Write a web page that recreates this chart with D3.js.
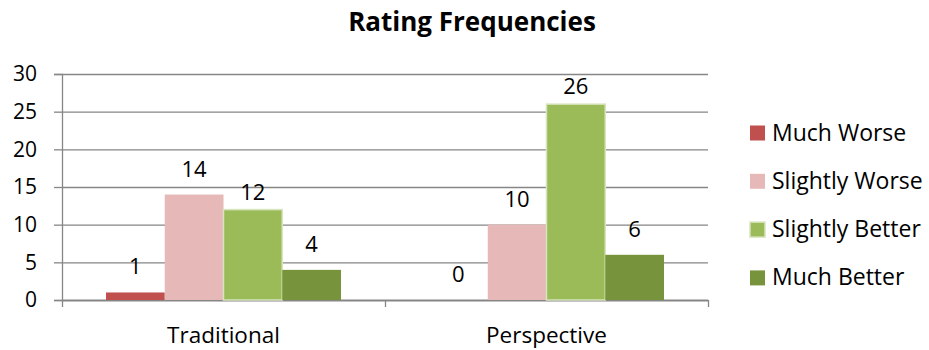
<!DOCTYPE html>
<html>
<head>
<meta charset="utf-8">
<script src="https://cdn.jsdelivr.net/npm/d3@7"></script>
<style>
  html, body { margin: 0; padding: 0; background: #fff; }
  svg { display: block; font-family: "Open Sans", sans-serif; }
</style>
</head>
<body>
<svg id="chart" width="929" height="350"></svg>
<script>
// Rating counts per presentation style
const categories = ["Traditional", "Perspective"];
const seriesNames = ["Much Worse", "Slightly Worse", "Slightly Better", "Much Better"];
const muchWorse = [1, 0];
const slightlyWorse = [14, 10];
const slightlyBetter = [12, 26];
const muchBetter = [4, 6];
const yTicks = [0, 5, 10, 15, 20, 25, 30];
const seriesColors = ["#c0504d", "#e6b9b8", "#9bbb59", "#77933c"];

const seriesValues = [muchWorse, slightlyWorse, slightlyBetter, muchBetter];

const FONT = "'Open Sans', sans-serif";
const svg = d3.select("#chart");
const margin = { left: 62, right: 221, top: 74, bottom: 50 };
const W = 929, H = 350;
const plotW = W - margin.left - margin.right;
const plotH = H - margin.top - margin.bottom;

const g = svg.append("g").attr("transform", `translate(${margin.left},${margin.top})`);

const x0 = d3.scaleBand().domain(categories).range([0, plotW]).paddingInner(0).paddingOuter(0);
const x1 = d3.scaleBand().domain(seriesNames).range([44, x0.bandwidth() - 44]).padding(0);
const y = d3.scaleLinear().domain([0, 30]).range([plotH, 0]);

const axisColor = "#868686";

// horizontal gridlines
g.append("g")
  .selectAll("line")
  .data(yTicks.filter(t => t > 0))
  .join("line")
  .attr("x1", 0).attr("x2", plotW)
  .attr("y1", d => y(d) + 0.5).attr("y2", d => y(d) + 0.5)
  .attr("stroke", axisColor).attr("stroke-width", 1.3);

// y axis
const yAxis = d3.axisLeft(y).tickValues(yTicks).tickSize(8).tickPadding(17);
const yg = g.append("g").call(yAxis);
yg.select(".domain").attr("stroke", axisColor).attr("stroke-width", 1.3);
yg.selectAll(".tick line").attr("stroke", axisColor).attr("stroke-width", 1.3);
yg.selectAll(".tick text")
  .attr("font-family", FONT)
  .attr("font-size", 21).attr("fill", "#000");

// x axis: ticks at category boundaries, labels at centres
const xg = g.append("g").attr("transform", `translate(0,${plotH})`);
xg.append("line").attr("x1", 0).attr("x2", plotW).attr("y1", 0.5).attr("y2", 0.5)
  .attr("stroke", axisColor).attr("stroke-width", 2);
const bounds = [0].concat(categories.map(c => x0(c) + x0.bandwidth()));
xg.selectAll("line.bt").data(bounds).join("line").attr("class", "bt")
  .attr("x1", d => d + 0.5).attr("x2", d => d + 0.5).attr("y1", 0).attr("y2", 7)
  .attr("stroke", axisColor).attr("stroke-width", 1.3);
xg.selectAll("text").data(categories).join("text")
  .attr("x", d => x0(d) + x0.bandwidth() / 2)
  .attr("y", 43)
  .attr("text-anchor", "middle")
  .attr("font-size", 22.5).attr("fill", "#000")
  .text(d => d);

// bars
const groups = g.append("g").selectAll("g")
  .data(categories.map((c, ci) => ({ c, vals: seriesValues.map((s, si) => ({ name: seriesNames[si], v: s[ci], si })) })))
  .join("g")
  .attr("transform", d => `translate(${x0(d.c)},0)`);

groups.selectAll("rect")
  .data(d => d.vals)
  .join("rect")
  .attr("x", d => x1(d.name))
  .attr("y", d => y(d.v))
  .attr("width", x1.bandwidth())
  .attr("height", d => plotH - y(d.v))
  .attr("fill", d => seriesColors[d.si])
  .attr("stroke", d => d.si === 2 ? "#d7e4bd" : "none")
  .attr("stroke-width", 1.5);

groups.selectAll("text")
  .data(d => d.vals)
  .join("text")
  .attr("x", d => x1(d.name) + x1.bandwidth() / 2)
  .attr("y", d => y(d.v) - (d.si === 2 ? 10 : 18))
  .attr("text-anchor", "middle")
  .attr("font-size", 22).attr("fill", "#000")
  .text(d => d.v);

// title
svg.append("text")
  .attr("x", 472).attr("y", 31)
  .attr("text-anchor", "middle")
  .attr("font-weight", "bold").attr("font-size", 26)
  .text("Rating Frequencies");

// legend
const legend = svg.append("g").attr("transform", "translate(750,0)");
const rows = legend.selectAll("g").data(seriesNames).join("g")
  .attr("transform", (d, i) => `translate(0,${133 + i * 48.3})`);
rows.append("rect")
  .attr("x", 0).attr("y", -7.5).attr("width", 15).attr("height", 15)
  .attr("fill", (d, i) => seriesColors[i])
  .attr("stroke", (d, i) => i === 2 ? "#d7e4bd" : "none").attr("stroke-width", 1.5);
rows.append("text")
  .attr("x", 22).attr("y", 7.5)
  .attr("font-size", 23).attr("fill", "#000")
  .text(d => d);
</script>
</body>
</html>
